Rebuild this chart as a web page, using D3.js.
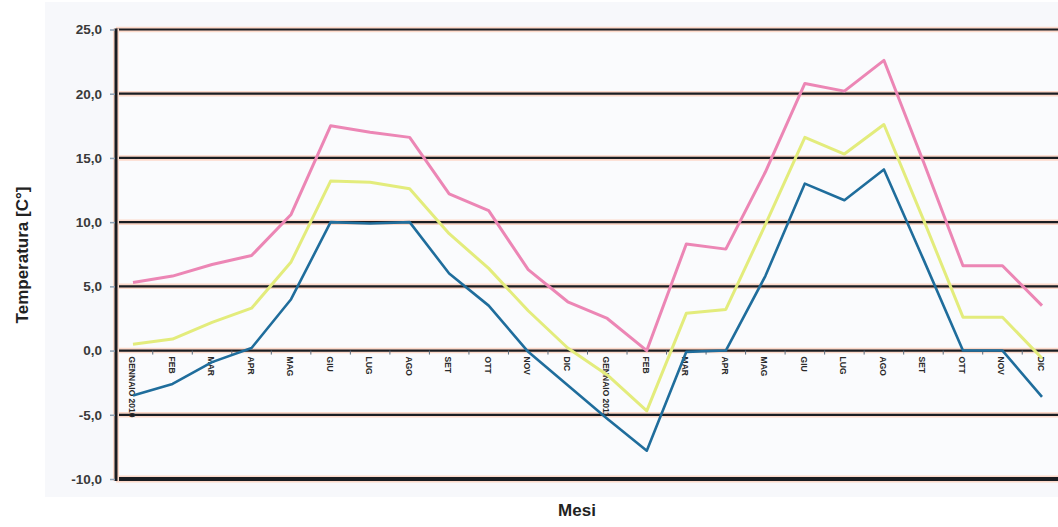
<!DOCTYPE html>
<html>
<head>
<meta charset="utf-8">
<script src="https://cdn.jsdelivr.net/npm/d3@7/dist/d3.min.js"></script>
<style>
  html, body { margin: 0; padding: 0; background: #ffffff; }
  svg { display: block; }
</style>
</head>
<body>
<div id="chart"></div>
<script>
// ---- data ----
const months = ["GENNAIO 2010","FEB","MAR","APR","MAG","GIU","LUG","AGO","SET","OTT","NOV","DIC",
                "GENNAIO 2011","FEB","MAR","APR","MAG","GIU","LUG","AGO","SET","OTT","NOV","DIC"];
const tMax = [5.3, 5.8, 6.7, 7.4, 10.6, 17.5, 17.0, 16.6, 12.2, 10.9, 6.3, 3.8,
              2.5, 0.0, 8.3, 7.9, 13.9, 20.8, 20.2, 22.6, 14.7, 6.6, 6.6, 3.5];
const tMed = [0.5, 0.9, 2.2, 3.3, 6.9, 13.2, 13.1, 12.6, 9.1, 6.4, 3.1, 0.2,
              -1.9, -4.7, 2.9, 3.2, 9.8, 16.6, 15.3, 17.6, 10.2, 2.6, 2.6, -0.6];
const tMin = [-3.5, -2.6, -0.9, 0.2, 4.0, 10.0, 9.9, 10.0, 6.0, 3.5, -0.1, -2.7,
              -5.3, -7.8, -0.1, 0.0, 5.8, 13.0, 11.7, 14.1, 7.1, 0.0, 0.0, -3.6];
const yTicks = [-10, -5, 0, 5, 10, 15, 20, 25];
const yTickLabels = ["-10,0", "-5,0", "0,0", "5,0", "10,0", "15,0", "20,0", "25,0"];
const seriesColors = ["#ec86b5", "#e3ec7c", "#1f6d9c"];

// ---- layout ----
const W = 1058, H = 527;
const plot = { left: 116, right: 1066, top: 29.5, bottom: 479 };

const svg = d3.select("#chart").append("svg").attr("width", W).attr("height", H);

// chart panel background
svg.append("rect").attr("x", 45).attr("y", 2).attr("width", W - 45).attr("height", 495)
  .attr("fill", "#f7f8fb");
// plot area
svg.append("rect").attr("x", plot.left).attr("y", plot.top)
  .attr("width", plot.right - plot.left).attr("height", plot.bottom - plot.top)
  .attr("fill", "#fafbfd");

const x = d3.scalePoint().domain(d3.range(months.length)).range([133, 1042]);
const y = d3.scaleLinear().domain([-10, 25]).range([plot.bottom, plot.top]);

// gridlines with salmon halo
const grid = svg.append("g");
yTicks.forEach(v => {
  grid.append("line").attr("x1", plot.left).attr("x2", plot.right)
    .attr("y1", y(v)).attr("y2", y(v))
    .attr("stroke", "#fcd9ca").attr("stroke-width", v === -10 ? 7 : 5.5);
});
yTicks.forEach(v => {
  grid.append("line").attr("x1", plot.left).attr("x2", plot.right)
    .attr("y1", y(v)).attr("y2", y(v))
    .attr("stroke", "#1a1d22").attr("stroke-width", v === -10 ? 4 : 2.2);
});

// left axis line
svg.append("line").attr("x1", plot.left).attr("x2", plot.left)
  .attr("y1", plot.top - 1).attr("y2", plot.bottom + 2)
  .attr("stroke", "#fcd9ca").attr("stroke-width", 6);
svg.append("line").attr("x1", plot.left).attr("x2", plot.left)
  .attr("y1", plot.top - 1).attr("y2", plot.bottom + 2)
  .attr("stroke", "#1a1d22").attr("stroke-width", 3);

// y axis via d3
const yAxis = d3.axisLeft(y).tickValues(yTicks)
  .tickFormat(d => yTickLabels[yTicks.indexOf(d)])
  .tickSize(5).tickPadding(8);
const gy = svg.append("g").attr("transform", `translate(${plot.left - 1},0)`).call(yAxis);
gy.select(".domain").remove();
gy.selectAll(".tick line").attr("stroke", "#8fa0b3").attr("stroke-width", 1.5);
gy.selectAll(".tick text")
  .attr("font-family", "Liberation Sans, Arial, sans-serif")
  .attr("font-size", 13.5).attr("font-weight", "bold").attr("fill", "#3a3a3a");

// category ticks on the zero line
const step = x.step();
const gx = svg.append("g");
d3.range(months.length + 1).forEach(i => {
  const xx = x(0) - step / 2 + i * step;
  if (xx > plot.left + 2 && xx < W) {
    gx.append("line").attr("x1", xx).attr("x2", xx).attr("y1", y(0)).attr("y2", y(0) + 4)
      .attr("stroke", "#5a6a7a").attr("stroke-width", 1);
  }
});
// category labels (rotated)
gx.selectAll("text.cat").data(months).join("text")
  .attr("class", "cat")
  .attr("transform", (d, i) => `translate(${x(i) - 4},${y(0) + 6}) rotate(90)`)
  .attr("text-anchor", "start")
  .attr("font-family", "Liberation Sans, Arial, sans-serif")
  .attr("font-size", 8.5).attr("font-weight", "bold").attr("fill", "#2a2a2a")
  .text(d => d);

// lines
const line = d3.line().x((d, i) => x(i)).y(d => y(d));
[tMax, tMed, tMin].forEach((s, k) => {
  svg.append("path").datum(s).attr("d", line)
    .attr("fill", "none").attr("stroke", seriesColors[k])
    .attr("stroke-width", k === 2 ? 2.6 : 3).attr("stroke-linejoin", "round");
});

// axis titles
svg.append("text").attr("transform", `translate(28,255) rotate(-90)`)
  .attr("text-anchor", "middle")
  .attr("font-family", "Liberation Sans, Arial, sans-serif")
  .attr("font-size", 17).attr("font-weight", "bold").attr("fill", "#222")
  .text("Temperatura [C°]");
svg.append("text").attr("x", 577).attr("y", 516)
  .attr("text-anchor", "middle")
  .attr("font-family", "Liberation Sans, Arial, sans-serif")
  .attr("font-size", 17).attr("font-weight", "bold").attr("fill", "#222")
  .text("Mesi");
</script>
</body>
</html>
